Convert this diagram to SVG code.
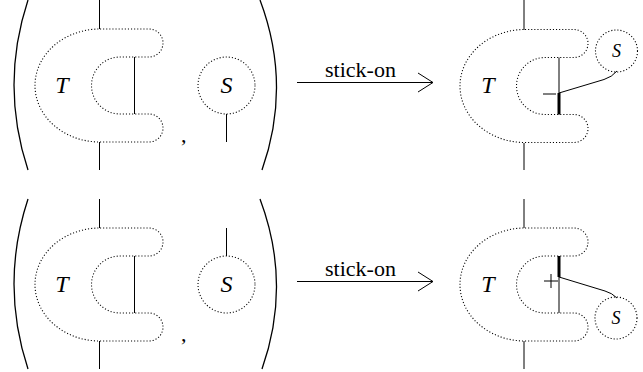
<svg xmlns="http://www.w3.org/2000/svg" width="643" height="372" viewBox="0 0 643 372">
<style>
.ln{fill:none;stroke:#000;stroke-width:1}
.par{fill:none;stroke:#000;stroke-width:1.3}
.dot{fill:none;stroke:#000;stroke-width:1.1;stroke-dasharray:1.1 2}
.thick{fill:none;stroke:#000;stroke-width:3}
.mi{font-family:'Liberation Serif','DejaVu Serif','Times New Roman',serif;font-style:italic}
.rm{font-family:'Liberation Serif','DejaVu Serif','Times New Roman',serif}
</style>
<defs>
<path id="tshape" class="dot" d="M100,29 L149,29 A14,14 0 0 1 149,57 L120,57 A28.5,28.5 0 0 0 120,114 L149,114 A14,14 0 0 1 149,142 L100,142 A65,56.5 0 0 1 100,29 Z"/>
</defs>

<!-- Top row -->
<g id="paren-top">
<path class="par" d="M28,0 Q0,85 28,170"/>
<path class="par" d="M260,0 Q292,85 262,170"/>
<text class="rm" x="181" y="142" font-size="22">,</text>
</g>
<g id="T-top-left">
<use href="#tshape"/>
<line class="ln" x1="99.5" y1="0" x2="99.5" y2="29"/>
<line class="ln" x1="99.5" y1="142" x2="99.5" y2="170"/>
<line class="ln" x1="134.5" y1="57" x2="134.5" y2="114"/>
<text class="mi" x="62" y="93" font-size="24" text-anchor="middle">T</text>
</g>
<g id="S-top-left">
<circle class="dot" cx="226.5" cy="85.5" r="28.5"/>
<line class="ln" x1="226.5" y1="114" x2="226.5" y2="142"/>
<text class="mi" x="226.5" y="93" font-size="24" text-anchor="middle">S</text>
</g>
<g id="arrow-top">
<line class="ln" x1="297" y1="82.5" x2="433" y2="82.5"/>
<path class="ln" d="M418,73 L433,82.5 L418,92"/>
<text class="rm" x="360.5" y="77" font-size="22" text-anchor="middle">stick-on</text>
</g>
<g id="T-top-right">
<use href="#tshape" transform="translate(425,0.5)"/>
<line class="ln" x1="524" y1="0" x2="524" y2="30"/>
<line class="ln" x1="524" y1="143" x2="524" y2="170"/>
<line class="ln" x1="559" y1="57.5" x2="559" y2="93"/>
<line class="thick" x1="559" y1="93" x2="559" y2="114.5"/>
<line class="ln" x1="543" y1="94" x2="556" y2="94"/>
<text class="mi" x="488" y="93" font-size="24" text-anchor="middle">T</text>
</g>
<g id="S-top-right">
<circle class="dot" cx="616.5" cy="51" r="21"/>
<text class="mi" x="616.5" y="57" font-size="18" text-anchor="middle">S</text>
</g>

<!-- Bottom row -->
<g id="paren-bottom">
<path class="par" d="M28,199 Q0,284 28,369"/>
<path class="par" d="M260,199 Q292,284 262,369"/>
<text class="rm" x="181" y="341" font-size="22">,</text>
</g>
<g id="T-bottom-left">
<use href="#tshape" transform="translate(0,199)"/>
<line class="ln" x1="99.5" y1="199" x2="99.5" y2="228"/>
<line class="ln" x1="99.5" y1="341" x2="99.5" y2="369"/>
<line class="ln" x1="134.5" y1="256" x2="134.5" y2="313"/>
<text class="mi" x="62" y="292" font-size="24" text-anchor="middle">T</text>
</g>
<g id="S-bottom-left">
<circle class="dot" cx="226.5" cy="284.5" r="28.5"/>
<line class="ln" x1="226.5" y1="228" x2="226.5" y2="256"/>
<text class="mi" x="226.5" y="292" font-size="24" text-anchor="middle">S</text>
</g>
<g id="arrow-bottom">
<line class="ln" x1="297" y1="281.5" x2="433" y2="281.5"/>
<path class="ln" d="M418,272 L433,281.5 L418,291"/>
<text class="rm" x="360.5" y="276" font-size="22" text-anchor="middle">stick-on</text>
</g>
<g id="T-bottom-right">
<use href="#tshape" transform="translate(425,199)"/>
<line class="ln" x1="524" y1="199" x2="524" y2="228"/>
<line class="ln" x1="524" y1="341" x2="524" y2="369"/>
<line class="thick" x1="559" y1="256" x2="559" y2="277"/>
<line class="ln" x1="559" y1="277" x2="559" y2="313"/>
<line class="ln" x1="544" y1="281" x2="558" y2="281"/>
<line class="ln" x1="551" y1="274" x2="551" y2="288"/>
<text class="mi" x="488" y="292" font-size="24" text-anchor="middle">T</text>
</g>
<g id="S-bottom-right">
<circle class="dot" cx="616" cy="318" r="21"/>
<text class="mi" x="616" y="324" font-size="18" text-anchor="middle">S</text>
</g>

<g id="connectors">
<path class="ln" d="M559,93 L604,79.5 Q612,77 617,71"/>
<path class="ln" d="M559,277 L605,291 Q612,293 617,298"/>
</g>
</svg>
